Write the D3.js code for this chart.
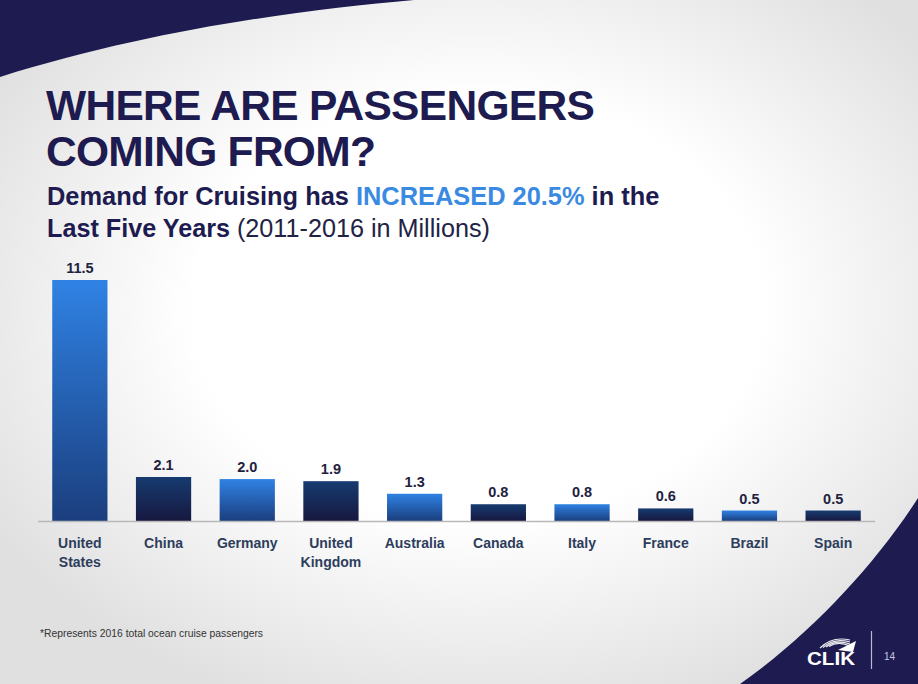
<!DOCTYPE html>
<html><head><meta charset="utf-8">
<script src="https://cdn.jsdelivr.net/npm/d3@7"></script>
<style>html,body{margin:0;padding:0;background:#fff;}svg{display:block;}</style>
</head><body>
<svg id="c" width="918" height="684"></svg>
<script>
const countries = ["United States","China","Germany","United Kingdom","Australia","Canada","Italy","France","Brazil","Spain"];
const labelLines = [["United","States"],["China"],["Germany"],["United","Kingdom"],["Australia"],["Canada"],["Italy"],["France"],["Brazil"],["Spain"]];
const passengers = [11.5, 2.1, 2.0, 1.9, 1.3, 0.8, 0.8, 0.6, 0.5, 0.5];
const valueLabels = ["11.5","2.1","2.0","1.9","1.3","0.8","0.8","0.6","0.5","0.5"];

const svg = d3.select("#c");
const W = 918, H = 684;
const navy = "#1d1b4f";
const defs = svg.append("defs");

const bg = defs.append("radialGradient").attr("id","bg").attr("cx","0.52").attr("cy","0.45").attr("r","0.62");
bg.append("stop").attr("offset","0").attr("stop-color","#ffffff");
bg.append("stop").attr("offset","0.5").attr("stop-color","#ffffff");
bg.append("stop").attr("offset","1").attr("stop-color","#e0e0e0");

const gBlue = defs.append("linearGradient").attr("id","gBlue").attr("x1",0).attr("y1",0).attr("x2",0).attr("y2",1);
gBlue.append("stop").attr("offset","0").attr("stop-color","#2f82e4");
gBlue.append("stop").attr("offset","1").attr("stop-color","#1b3e7e");
const gDark = defs.append("linearGradient").attr("id","gDark").attr("x1",0).attr("y1",0).attr("x2",0).attr("y2",1);
gDark.append("stop").attr("offset","0").attr("stop-color","#163b70");
gDark.append("stop").attr("offset","1").attr("stop-color","#17183f");

svg.append("rect").attr("width",W).attr("height",H).attr("fill","url(#bg)");

// decorative shapes
svg.append("path").attr("d","M0,0 L414,0 C300,10 150,30 0,77 Z").attr("fill",navy);
svg.append("path").attr("d","M918,498 C875,565 810,635 740,684 L918,684 Z").attr("fill",navy);

// title
const title = svg.append("g").attr("font-family","'Liberation Sans', Arial, sans-serif").attr("font-weight","bold").attr("fill",navy);
title.append("text").attr("x",46).attr("y",120).attr("font-size",42.5).attr("letter-spacing",-0.7).text("WHERE ARE PASSENGERS");
title.append("text").attr("x",46).attr("y",166).attr("font-size",42.5).attr("letter-spacing",-0.7).text("COMING FROM?");

const sub1 = svg.append("text").attr("x",47).attr("y",205).attr("font-family","'Liberation Sans', Arial, sans-serif").attr("font-size",25.4).attr("font-weight","bold").attr("fill",navy);
sub1.append("tspan").text("Demand for Cruising  has ");
sub1.append("tspan").attr("fill","#3a8ae2").text("INCREASED 20.5%");
sub1.append("tspan").text(" in the");
const sub2 = svg.append("text").attr("x",47).attr("y",237).attr("font-family","'Liberation Sans', Arial, sans-serif").attr("font-size",25.2).attr("fill",navy);
sub2.append("tspan").attr("font-weight","bold").text("Last Five Years");
sub2.append("tspan").attr("fill","#222244").text(" (2011-2016 in Millions)");

// chart
const x = d3.scaleBand().domain(countries).range([38,875]).paddingInner(0.34).paddingOuter(0.17);
const y = d3.scaleLinear().domain([0,11.5]).range([521,280]);

const data = countries.map((c,i)=>({c, v:passengers[i], lab:valueLabels[i], lines:labelLines[i], i}));

svg.append("g").selectAll("rect").data(data).join("rect")
  .attr("x",d=>x(d.c)).attr("width",x.bandwidth())
  .attr("y",d=>y(d.v)).attr("height",d=>y(0)-y(d.v))
  .attr("fill",d=>d.i%2===0?"url(#gBlue)":"url(#gDark)");

svg.append("line").attr("x1",38).attr("x2",875).attr("y1",y(0)+0.5).attr("y2",y(0)+0.5).attr("stroke","#b8b8b8").attr("stroke-width",1.5);

svg.append("g").selectAll("text").data(data).join("text")
  .attr("x",d=>x(d.c)+x.bandwidth()/2).attr("y",d=>y(d.v)-7)
  .attr("text-anchor","middle").attr("font-family","'Liberation Sans', Arial, sans-serif")
  .attr("font-size",14.5).attr("font-weight","bold").attr("fill","#22223f").text(d=>d.lab);

const cats = svg.append("g").selectAll("text").data(data).join("text")
  .attr("x",d=>x(d.c)+x.bandwidth()/2).attr("y",548)
  .attr("text-anchor","middle").attr("font-family","'Liberation Sans', Arial, sans-serif")
  .attr("font-size",14).attr("font-weight","bold").attr("fill","#2d3d5c");
cats.selectAll("tspan").data(d=>d.lines.map(l=>({l, x:x(d.c)+x.bandwidth()/2}))).join("tspan")
  .attr("x",t=>t.x).attr("dy",(t,j)=>j===0?0:19).text(t=>t.l);

// footnote
svg.append("text").attr("x",40).attr("y",637).attr("font-family","'Liberation Sans Narrow','Liberation Sans', Arial, sans-serif")
  .attr("font-size",10.5).attr("fill","#333").attr("textLength",223).attr("lengthAdjust","spacingAndGlyphs")
  .text("*Represents 2016 total ocean cruise passengers");

// logo
const logo = svg.append("g");
logo.append("text").attr("x",807).attr("y",665).attr("font-family","'Liberation Sans', Arial, sans-serif").attr("font-weight","bold").attr("font-size",19).attr("fill","#fff").attr("textLength",48).attr("lengthAdjust","spacingAndGlyphs").text("CLIK");
[0,1,2,3].forEach(k=>{
  logo.append("path").attr("d",`M${820+k*3},${648-k*0.5} Q${832+k*2},${636+k*1.5} ${850},${640+k*2}`).attr("fill","none").attr("stroke","#fff").attr("stroke-width",1.2).attr("opacity",0.9);
});
logo.append("path").attr("d","M838,650 L856,641 L853,652 Z").attr("fill","#fff");
logo.append("line").attr("x1",871.5).attr("x2",871.5).attr("y1",631).attr("y2",669).attr("stroke","#b8b8d8").attr("stroke-width",1.2);
logo.append("text").attr("x",884).attr("y",660).attr("font-family","'Liberation Sans', Arial, sans-serif").attr("font-size",10).attr("fill","#c8c8e2").text("14");
</script>
</body></html>
